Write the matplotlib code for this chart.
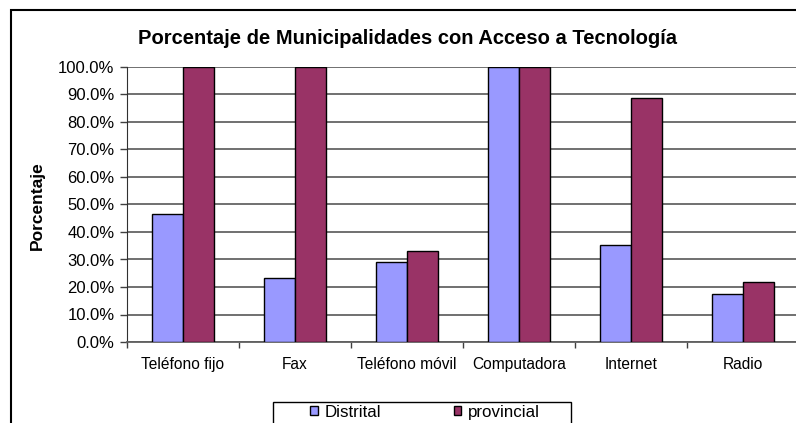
import numpy as np
import matplotlib
matplotlib.use("Agg")
import matplotlib.pyplot as plt
from matplotlib.patches import Rectangle
from matplotlib.ticker import PercentFormatter

plt.rcParams['font.family'] = ['Liberation Sans', 'DejaVu Sans']

categorias = ['Teléfono fijo', 'Fax', 'Teléfono móvil', 'Computadora', 'Internet', 'Radio']
distrital = [46.7, 23.2, 29.0, 100.0, 35.2, 17.5]
provincial = [100.0, 100.0, 33.0, 100.0, 88.8, 21.9]

W, H = 796, 423
fig = plt.figure(figsize=(W / 100, H / 100), dpi=100)

# eje: de x=127 a x=799 px, y de 67 a 342 px
ax = fig.add_axes([127 / W, (H - 342) / H, 672 / W, 275 / H])

x = np.arange(len(categorias))
ancho = 0.28
ax.bar(x - ancho / 2, distrital, ancho, color='#9999FF', edgecolor='black', linewidth=1.0,
       label='Distrital', zorder=3)
ax.bar(x + ancho / 2, provincial, ancho, color='#993366', edgecolor='black', linewidth=1.0,
       label='provincial', zorder=3)

ax.set_xlim(-0.5, len(categorias) - 0.5)
ax.set_ylim(0, 100)
ax.set_yticks(np.arange(0, 101, 10))
ax.yaxis.set_major_formatter(PercentFormatter(decimals=1))
ax.yaxis.grid(True, color='#707070', linewidth=1.4, zorder=0)

# ticks en los límites de categoría, etiquetas en el centro
ax.set_xticks(np.arange(-0.5, len(categorias), 1))
ax.set_xticklabels([])
ax.set_xticks(x, minor=True)
ax.set_xticklabels(categorias, minor=True)
ax.tick_params(axis='x', which='major', length=4, color='#404040', width=1)
ax.tick_params(axis='x', which='minor', length=0, pad=11, labelsize=11.2)
ax.tick_params(axis='y', length=5, color='#404040', width=1, pad=4, labelsize=12)

for s in ['top', 'right']:
    ax.spines[s].set_visible(False)
ax.spines['left'].set_color('#303030')
ax.spines['bottom'].set_color('#606060')
ax.spines['bottom'].set_linewidth(1.3)

fig.text(408 / W, (H - 38) / H, 'Porcentaje de Municipalidades con Acceso a Tecnología',
         ha='center', va='center', fontsize=14.5, fontweight='bold')
fig.text(37 / W, (H - 206) / H, 'Porcentaje', rotation=90, ha='center', va='center',
         fontsize=12.5, fontweight='bold')

# marco exterior del gráfico
fig.patches.append(Rectangle((11 / W, -0.1), 1.0, (H - 10) / H + 0.1, transform=fig.transFigure,
                             fill=False, edgecolor='black', linewidth=1.5))

# leyenda
fig.patches.append(Rectangle((273 / W, -0.1), (571 - 273) / W, (H - 402) / H + 0.1,
                             transform=fig.transFigure, fill=False, edgecolor='black', linewidth=1.0))
fig.legend(loc='center', bbox_to_anchor=(425 / W, (H - 412) / H), ncol=2, frameon=False,
           fontsize=12.2, handlelength=0.45, handleheight=0.45, handletextpad=0.4,
           columnspacing=4.3, borderpad=0)

fig.savefig('out.png', dpi=100)
